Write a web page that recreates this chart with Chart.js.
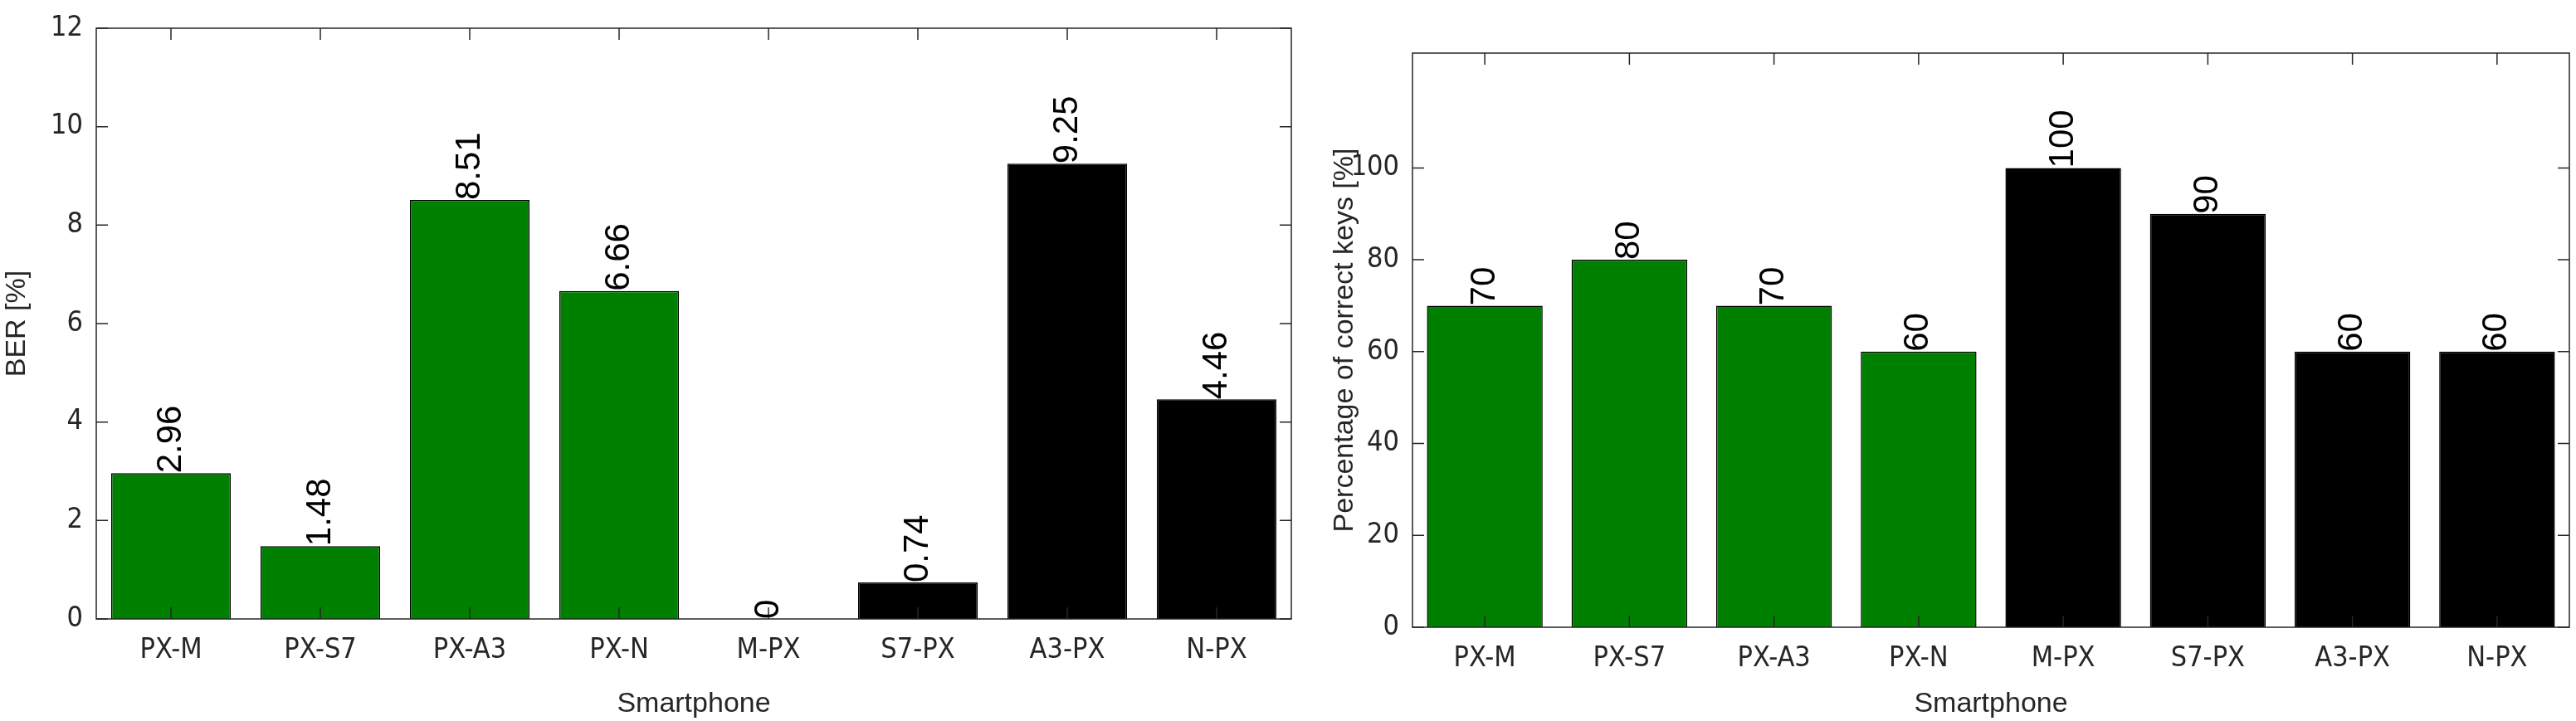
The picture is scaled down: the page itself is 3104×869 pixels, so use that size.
<!DOCTYPE html>
<html><head><meta charset="utf-8">
<script src="https://cdn.jsdelivr.net/npm/chart.js@4"></script>
<style>
body{margin:0;background:#fff;width:3104px;height:869px;position:relative;overflow:hidden}
.box{position:absolute;top:0;height:869px}
</style></head><body>
<div class="box" style="left:0;width:1570px"><canvas id="ber"></canvas></div>
<div class="box" style="left:1600px;width:1504px"><canvas id="keys"></canvas></div>
<script>
const phones = ['PX-M', 'PX-S7', 'PX-A3', 'PX-N', 'M-PX', 'S7-PX', 'A3-PX', 'N-PX'];
const berValues = [2.96, 1.48, 8.51, 6.66, 0, 0.74, 9.25, 4.46];
const berLabels = ['2.96', '1.48', '8.51', '6.66', '0', '0.74', '9.25', '4.46'];
const keyValues = [70, 80, 70, 60, 100, 90, 60, 60];
const keyTicks = [0, 20, 40, 60, 80, 100];
const barColors = ['#008000', '#008000', '#008000', '#008000', '#000000', '#000000', '#000000', '#000000'];

const tickFont = { family: '"Liberation Sans Narrow", "DejaVu Sans Condensed", Arial', size: 34 };
const titleFont = { family: '"Liberation Sans", Arial', size: 34 };

// box around plot area, inward ticks, and rotated value labels
const matlabStyle = {
    id: 'matlabStyle',
    afterDatasetsDraw(chart, args, opts) {
        const ctx = chart.ctx, a = chart.chartArea;
        const x = chart.scales.x, y = chart.scales.y;
        ctx.save();
        ctx.strokeStyle = '#262626';
        ctx.lineWidth = 1.5;
        ctx.strokeRect(a.left, a.top, a.right - a.left, a.bottom - a.top);
        ctx.beginPath();
        y.ticks.forEach(t => {
            const py = y.getPixelForValue(t.value);
            ctx.moveTo(a.left, py); ctx.lineTo(a.left + 14, py);
            ctx.moveTo(a.right, py); ctx.lineTo(a.right - 14, py);
        });
        chart.data.labels.forEach((l, i) => {
            const px = x.getPixelForValue(i);
            ctx.moveTo(px, a.bottom); ctx.lineTo(px, a.bottom - 14);
            ctx.moveTo(px, a.top); ctx.lineTo(px, a.top + 14);
        });
        ctx.stroke();
        const meta = chart.getDatasetMeta(0);
        ctx.fillStyle = '#000';
        ctx.font = '42px "Liberation Sans", Arial';
        ctx.textAlign = 'left';
        ctx.textBaseline = 'middle';
        meta.data.forEach((bar, i) => {
            ctx.save();
            ctx.translate(bar.x, bar.y);
            ctx.rotate(-Math.PI / 2);
            ctx.fillText(opts.labels[i], 0, 0);
            ctx.restore();
        });
        ctx.restore();
    }
};

function makeChart(id, values, labels, yMax, yTitle, pad, yWidth, xHeight, tickList) {
    new Chart(document.getElementById(id), {
        type: 'bar',
        data: {
            labels: phones,
            datasets: [{
                data: values,
                backgroundColor: barColors,
                borderColor: '#000',
                borderWidth: 1.5,
                barPercentage: 0.8,
                categoryPercentage: 1
            }]
        },
        options: {
            responsive: true,
            maintainAspectRatio: false,
            animation: false,
            layout: { padding: pad },
            plugins: { legend: { display: false }, tooltip: { enabled: false }, matlabStyle: { labels: labels } },
            scales: {
                x: {
                    grid: { display: false },
                    border: { display: false },
                    ticks: { color: '#262626', font: tickFont, padding: 10, maxRotation: 0 },
                    title: { display: true, text: 'Smartphone', color: '#262626', font: titleFont, padding: 0 },
                    afterFit: s => { s.height = xHeight; }
                },
                y: {
                    min: 0, max: yMax,
                    grid: { display: false },
                    border: { display: false },
                    afterBuildTicks: s => { if (tickList) s.ticks = tickList.map(v => ({ value: v })); },
                    ticks: { color: '#262626', font: tickFont, stepSize: 2, padding: 8 },
                    title: { display: true, text: yTitle, color: '#262626', font: titleFont, padding: 0 },
                    afterFit: s => { s.width = yWidth; }
                }
            }
        },
        plugins: [matlabStyle]
    });
}

makeChart('ber', berValues, berLabels, 12, 'BER [%]', { top: 34, right: 14 }, 116, 123, null);
makeChart('keys', keyValues, keyValues.map(String), 125, 'Percentage of correct keys [%]', { top: 64, right: 8 }, 102, 113, keyTicks);
</script>
</body></html>
